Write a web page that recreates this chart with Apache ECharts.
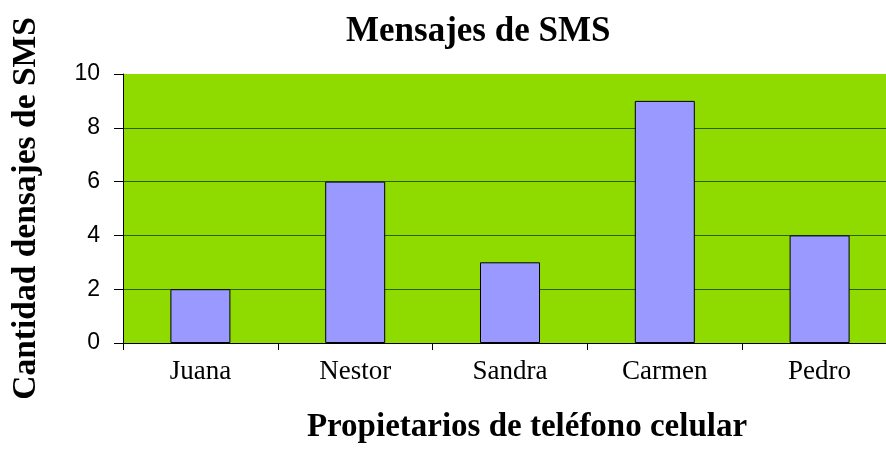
<!DOCTYPE html>
<html>
<head>
<meta charset="utf-8">
<script src="https://cdn.jsdelivr.net/npm/echarts@6/dist/echarts.min.js"></script>
<style>
    html, body { margin: 0; padding: 0; background: #fff; overflow: hidden; }
    #chartBlock { width: 900px; height: 450px; }
</style>
</head>
<body>
<div id="chartBlock"></div>
<script>
const owners = ['Juana', 'Nestor', 'Sandra', 'Carmen', 'Pedro'];
const smsCounts = [2, 6, 3, 9, 4];
const yTicks = [0, 2, 4, 6, 8, 10];

const chartBlock = document.querySelector('#chartBlock');

// plot runs past the right edge of the picture, so the div is wider than the window
let option = {
    animation: false,
    title: {
        text: 'Mensajes de SMS',
        left: 341,
        top: 9,
        textStyle: {
            fontFamily: 'Liberation Serif',
            fontWeight: 'bold',
            fontSize: 35,
            color: '#000'
        }
    },
    grid: {
        left: 123,
        right: 3,
        top: 74,
        bottom: 107,
        show: true,
        backgroundColor: '#8fdb00',
        borderWidth: 0
    },
    xAxis: {
        type: 'category',
        data: owners,
        name: 'Propietarios de teléfono celular',
        nameLocation: 'middle',
        nameGap: 68,
        nameTextStyle: {
            fontFamily: 'Liberation Serif',
            fontWeight: 'bold',
            fontSize: 33,
            color: '#000',
            padding: [0, 0, 0, 34]
        },
        axisLine: {lineStyle: {color: '#000', width: 1}},
        axisTick: {show: true, length: 7, lineStyle: {color: '#000'}},
        axisLabel: {
            margin: 15,
            fontFamily: 'Liberation Serif',
            fontSize: 27,
            color: '#000'
        }
    },
    yAxis: {
        type: 'value',
        min: yTicks[0],
        max: yTicks[yTicks.length - 1],
        interval: 2,
        name: 'Cantidad densajes de SMS',
        nameLocation: 'middle',
        nameGap: 80,
        nameTextStyle: {
            fontFamily: 'Liberation Serif',
            fontWeight: 'bold',
            fontSize: 33.5,
            color: '#000'
        },
        axisLine: {show: true, lineStyle: {color: '#000', width: 1}},
        axisTick: {show: true, length: 9, lineStyle: {color: '#000'}},
        axisLabel: {
            margin: 23,
            fontFamily: 'Liberation Sans',
            fontSize: 23,
            color: '#000'
        },
        splitLine: {
            show: true,
            showMaxLine: false,
            lineStyle: {color: '#2f5f00', width: 1}
        }
    },
    series: [
        {
            name: 'SMS',
            type: 'bar',
            data: smsCounts,
            barWidth: 60,
            itemStyle: {
                color: '#9999ff',
                borderColor: '#000',
                borderWidth: 1
            }
        }
    ]
};

let myChart = echarts.init(chartBlock);
myChart.setOption(option);
</script>
</body>
</html>
